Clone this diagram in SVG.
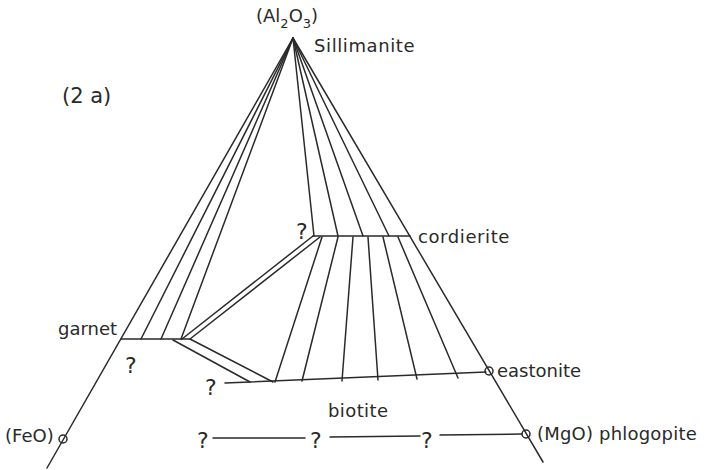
<svg xmlns="http://www.w3.org/2000/svg" width="715" height="470" viewBox="0 0 715 470">
<style>
.ln{stroke:#2a2a2a;stroke-width:1.5;fill:none;stroke-linecap:round}
.pt{stroke:#2a2a2a;stroke-width:1.5;fill:none}
.t{font-family:"DejaVu Sans","Liberation Sans",sans-serif;font-size:18px;fill:#2a2a2a;letter-spacing:0.6px}
.q{font-family:"DejaVu Sans","Liberation Sans",sans-serif;font-size:22px;fill:#2a2a2a}
</style>
<rect width="715" height="470" fill="#ffffff"/>
<g id="connectors">
<line class="ln" x1="293" y1="38" x2="47" y2="468"/>
<line class="ln" x1="293" y1="38" x2="543" y2="462"/>
<line class="ln" x1="293" y1="38" x2="141" y2="339"/>
<line class="ln" x1="293" y1="38" x2="161" y2="339"/>
<line class="ln" x1="293" y1="38" x2="181" y2="339"/>
<line class="ln" x1="121" y1="339" x2="190" y2="339"/>
<line class="ln" x1="293" y1="38" x2="314" y2="236"/>
<line class="ln" x1="293" y1="38" x2="338" y2="236"/>
<line class="ln" x1="293" y1="38" x2="363" y2="236"/>
<line class="ln" x1="293" y1="38" x2="389" y2="236"/>
<line class="ln" x1="313" y1="236" x2="410" y2="236"/>
<line class="ln" x1="182" y1="339" x2="313" y2="236"/>
<line class="ln" x1="190" y1="339" x2="320" y2="237"/>
<line class="ln" x1="190" y1="339" x2="273" y2="382"/>
<line class="ln" x1="173" y1="340" x2="250" y2="382"/>
<line class="ln" x1="322" y1="237" x2="275" y2="382"/>
<line class="ln" x1="338" y1="237" x2="302" y2="381"/>
<line class="ln" x1="353" y1="237" x2="342" y2="381"/>
<line class="ln" x1="368" y1="237" x2="378" y2="380"/>
<line class="ln" x1="383" y1="237" x2="417" y2="379"/>
<line class="ln" x1="398" y1="237" x2="458" y2="378"/>
<line class="ln" x1="225" y1="383" x2="486" y2="372"/>
<line class="ln" x1="213" y1="438" x2="305" y2="438"/>
<line class="ln" x1="330" y1="437" x2="420" y2="436"/>
<line class="ln" x1="440" y1="435" x2="522" y2="434"/>
</g>
<g id="label-2a"><text class="t" x="62" y="103" style="font-size:21px;letter-spacing:0">(2 a)</text></g>
<g id="node-sillimanite">
<text class="t" x="256" y="22" style="font-size:18px;letter-spacing:0">(Al<tspan dy="6" style="font-size:13px">2</tspan><tspan dy="-6">O</tspan><tspan dy="6" style="font-size:13px">3</tspan><tspan dy="-6">)</tspan></text>
<text class="t" x="314" y="52">Sillimanite</text>
</g>
<g id="node-garnet"><text class="t" x="58" y="335" style="letter-spacing:0">garnet</text></g>
<g id="node-cordierite"><text class="t" x="418" y="243">cordierite</text></g>
<g id="node-eastonite"><circle class="pt" cx="489" cy="371" r="4"/><text class="t" x="497" y="377" style="letter-spacing:0">eastonite</text></g>
<g id="node-biotite"><text class="t" x="328" y="417" style="letter-spacing:0.4px">biotite</text></g>
<g id="node-feo"><circle class="pt" cx="63" cy="439" r="4"/><text class="t" x="5" y="442" style="letter-spacing:0">(FeO)</text></g>
<g id="node-mgo"><circle class="pt" cx="526" cy="434" r="4"/><text class="t" x="537" y="440" style="letter-spacing:0.2px">(MgO) phlogopite</text></g>
<g id="questions">
<text class="q" x="296" y="239">?</text>
<text class="q" x="125" y="373">?</text>
<text class="q" x="205" y="395">?</text>
<text class="q" x="197" y="448">?</text>
<text class="q" x="310" y="448">?</text>
<text class="q" x="421" y="448">?</text>
</g>
</svg>
